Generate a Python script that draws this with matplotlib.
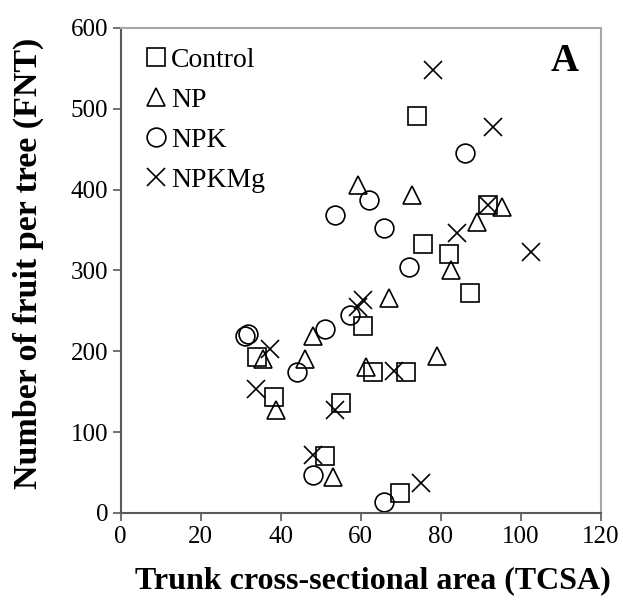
import matplotlib
matplotlib.use("Agg")
import matplotlib.pyplot as plt

# TCSA (x) and number of fruit per tree (y) for each treatment
control_x = [74.2, 91.9, 75.7, 82.1, 87.3, 60.7, 34.2, 38.3, 55.0, 63.0, 71.3, 51.1, 69.8]
control_y = [491, 381, 333, 321, 272, 231, 193, 143, 136, 174, 174, 71, 25]

np_x = [59.4, 72.9, 95.4, 89.2, 82.5, 67.2, 48.0, 46.0, 35.7, 61.3, 79.0, 38.8, 53.0]
np_y = [406, 393, 379, 360, 300, 266, 219, 191, 191, 181, 194, 128, 45]

npk_x = [86.1, 62.2, 53.6, 65.9, 72.1, 57.3, 51.1, 44.0, 31.9, 31.1, 48.0, 65.8]
npk_y = [445, 387, 369, 352, 304, 245, 228, 174, 222, 219, 47, 14]

npkmg_x = [78.2, 93.0, 84.0, 102.6, 91.9, 60.7, 59.4, 37.3, 33.8, 53.6, 68.4, 48.2, 75.2]
npkmg_y = [548, 478, 346, 323, 381, 263, 255, 203, 154, 128, 176, 72, 37]

plt.rcParams["font.family"] = ["Liberation Serif", "DejaVu Serif"]

fig = plt.figure(figsize=(6.23, 6.06), dpi=100)
ax = fig.add_axes([0.1937, 0.1535, 0.7705, 0.8003])

mk = dict(linestyle="none", markerfacecolor="none", markeredgecolor="black",
          markeredgewidth=1.2, color="black")
ax.plot(control_x, control_y, marker="s", markersize=13.5, label="Control", **mk)
ax.plot(np_x, np_y, marker="^", markersize=13.5, label="NP", **mk)
ax.plot(npk_x, npk_y, marker="o", markersize=13.5, label="NPK", **mk)
ax.plot(npkmg_x, npkmg_y, marker="x", markersize=13, label="NPKMg", **mk)

ax.set_xlim(0, 120)
ax.set_ylim(0, 600)
ax.set_xticks(range(0, 121, 20))
ax.set_yticks(range(0, 601, 100))
ax.tick_params(labelsize=18, direction="out", length=6, width=1.2, color="#595959")
ax.tick_params(axis="y", pad=3)

for side in ["left", "bottom"]:
    ax.spines[side].set_color("#595959")
    ax.spines[side].set_linewidth(1.5)
for side in ["top", "right"]:
    ax.spines[side].set_color("#A6A6A6")
    ax.spines[side].set_linewidth(1.5)

ax.set_xlabel("Trunk cross-sectional area (TCSA)", fontsize=23, fontweight="bold")
ax.set_ylabel("Number of fruit per tree (FNT)", fontsize=24.5, fontweight="bold")
ax.xaxis.set_label_coords(0.525, -0.11)
ax.yaxis.set_label_coords(-0.16, 0.515)

ax.legend(loc="upper left", frameon=False, fontsize=20, handlelength=0.7,
          handletextpad=0.2, labelspacing=0.52, borderaxespad=0.3,
          bbox_to_anchor=(0.012, 1.0))

ax.text(0.955, 0.93, "A", transform=ax.transAxes, fontsize=28, fontweight="bold",
        ha="right", va="center")

fig.savefig("out.png", dpi=100)
